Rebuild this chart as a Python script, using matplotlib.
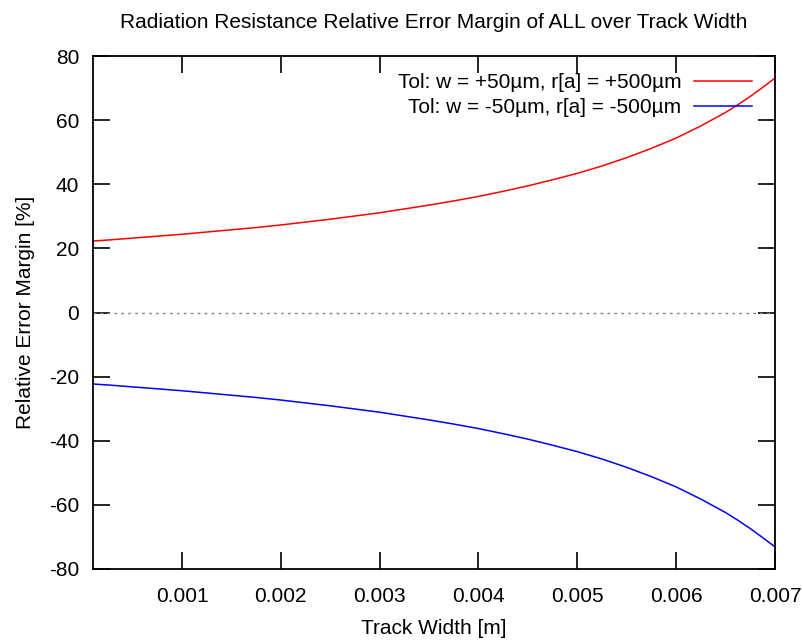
import matplotlib
matplotlib.use("Agg")
import matplotlib.pyplot as plt

plt.rcParams['font.family'] = ['Liberation Sans', 'DejaVu Sans']
plt.rcParams['axes.unicode_minus'] = False

# Track width [m]
width = [0.0001, 0.00025, 0.0005, 0.00075, 0.0010, 0.00125, 0.0015, 0.00175,
         0.0020, 0.00225, 0.0025, 0.00275, 0.0030, 0.00325, 0.0035, 0.00375,
         0.0040, 0.00425, 0.0045, 0.00475, 0.0050, 0.00525, 0.0055, 0.00575,
         0.0060, 0.00625, 0.0065, 0.006625, 0.00675, 0.006875, 0.0070]
# Relative error margin [%]
err_plus = [22.3, 22.6, 23.2, 23.8, 24.4, 25.1, 25.8, 26.5,
            27.3, 28.2, 29.1, 30.1, 31.1, 32.3, 33.5, 34.8,
            36.2, 37.8, 39.5, 41.4, 43.4, 45.7, 48.3, 51.2,
            54.4, 58.2, 62.4, 64.8, 67.4, 70.2, 73.1]
err_minus = [-22.3, -22.6, -23.2, -23.8, -24.4, -25.1, -25.8, -26.5,
             -27.3, -28.2, -29.1, -30.1, -31.1, -32.3, -33.5, -34.8,
             -36.2, -37.8, -39.5, -41.4, -43.4, -45.7, -48.3, -51.2,
             -54.4, -58.2, -62.4, -64.8, -67.4, -70.2, -73.1]

xticks = [0.001, 0.002, 0.003, 0.004, 0.005, 0.006, 0.007]
xticklabels = ['0.001', '0.002', '0.003', '0.004', '0.005', '0.006', '0.007']
yticks = [-80, -60, -40, -20, 0, 20, 40, 60, 80]

label_plus = 'Tol: w = +50µm, r[a] = +500µm'
label_minus = 'Tol: w = -50µm, r[a] = -500µm'

FS = 15

fig = plt.figure(figsize=(8.04, 6.42), dpi=100)
ax = fig.add_axes([93/804, 1-569/642, (775-93)/804, (569-56)/642])

ax.axhline(0, color='#888888', linestyle=(0, (2, 3)), linewidth=1.0)
ax.plot(width, err_plus, color='#ff0000', linewidth=1.1, label=label_plus)
ax.plot(width, err_minus, color='#0000ff', linewidth=1.1, label=label_minus)

ax.set_xlim(0.0001, 0.007)
ax.set_ylim(-80, 80)
ax.set_xticks(xticks)
ax.set_xticklabels(xticklabels)
ax.set_yticks(yticks)
ax.tick_params(direction='in', length=12, width=1.2, top=True, right=True,
               labelsize=FS, pad=13, colors='black')
ax.tick_params(axis='y', pad=10)
for s in ax.spines.values():
    s.set_linewidth(1.3)

ax.set_xlabel('Track Width [m]', fontsize=FS, labelpad=9)
ax.set_ylabel('Relative Error Margin [%]', fontsize=FS, labelpad=10)
ax.set_title('Radiation Resistance Relative Error Margin of ALL over Track Width',
             fontsize=FS, pad=20)

leg = ax.legend(loc='upper right', frameon=False, markerfirst=False,
                fontsize=FS, handlelength=2.8, handletextpad=0.6,
                labelspacing=0.3, borderaxespad=0.0, borderpad=0.0)
leg.set_bbox_to_anchor(((752-93)/682, (569-73)/513), transform=ax.transAxes)
for t in leg.get_texts():
    t.set_ha('right')

fig.savefig('out.png', dpi=100)
